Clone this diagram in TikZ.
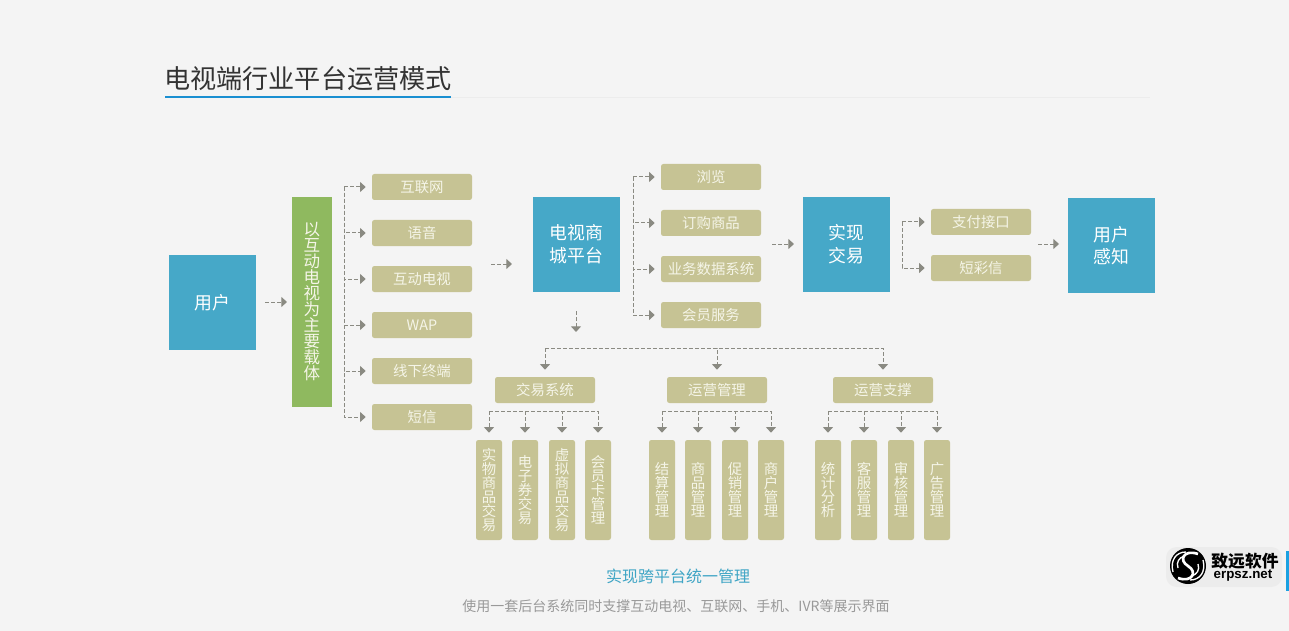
\documentclass[tikz,border=0pt]{standalone}
\usepackage{fontspec}
\setmainfont{Noto Sans CJK SC}
\newfontfamily\logolat{Liberation Sans}
\usepackage{xcolor}
\definecolor{bgc}{HTML}{F4F4F4}
\definecolor{bluec}{HTML}{46A8C8}
\definecolor{greenc}{HTML}{8FB95F}
\definecolor{khakic}{HTML}{C6C394}
\definecolor{lblc}{HTML}{F5F5E8}
\definecolor{arrc}{HTML}{8A8A82}
\definecolor{titlec}{HTML}{333333}
\definecolor{ulinec}{HTML}{1A8FD1}
\definecolor{rulec}{HTML}{ECECEC}
\definecolor{subc}{HTML}{3FA5C5}
\definecolor{notec}{HTML}{999999}
\definecolor{barc}{HTML}{1BA1E2}
\usetikzlibrary{arrows.meta,positioning,calc}
\tikzset{
  x=0.75pt,y=-0.75pt,
  >={Triangle[length=4.2pt,width=7.4pt]},
  bigbox/.style={fill=bluec,text=white,minimum width=65.25pt,minimum height=71.25pt,inner sep=0pt,align=center,font=\fontsize{13.4}{17}\selectfont},
  sidebox/.style={fill=greenc,text=lblc,minimum width=30pt,minimum height=157.5pt,inner sep=0pt,align=center,font=\fontsize{12.4}{12}\selectfont},
  item/.style={fill=khakic,text=lblc,rounded corners=1.8pt,minimum width=75pt,minimum height=19.5pt,inner sep=0pt,font=\fontsize{10.8}{12}\selectfont},
  leaf/.style={fill=khakic,text=lblc,rounded corners=1.8pt,minimum width=19.5pt,minimum height=75pt,inner sep=0pt,align=center,font=\fontsize{10.8}{10.5}\selectfont},
  dashar/.style={->,draw=arrc,line width=0.75pt,dash pattern=on 3pt off 1.5pt},
  toitem/.style={dashar,shorten >=4.5pt},
  toleaf/.style={dashar,shorten >=5.25pt},
}
\newcommand{\itemrow}[4]{\node[item] (#1) at (#2,#3) {#4};}
\newcommand{\leafbox}[3]{\node[leaf] (#1) at (#2,490) {#3};}
\begin{document}
\begin{tikzpicture}
  \fill[bgc] (0,0) rectangle (1289,631);
  \useasboundingbox (0,0) rectangle (1289,631);
  % title
  \node[font=\fontsize{19.6}{22}\selectfont,text=titlec,inner sep=0pt] (title) at (308,79) {电视端行业平台运营模式};
  \draw[rulec,line width=0.75pt] (451,98) -- (1150,98);
  \draw[ulinec,line width=1.5pt] (165,97) -- (451,97);
  % top row
  \node[bigbox] (user) at (212.5,302.5) {用户};
  \node[sidebox] (carrier) at (312,302) {以\\互\\动\\电\\视\\为\\主\\要\\载\\体};
  \node[bigbox] (mall) at (576.5,244.5) {电视商\\城平台};
  \node[bigbox] (deal) at (846.5,244.5) {实现\\交易};
  \node[bigbox] (sense) at (1111.5,245.5) {用户\\感知};
  \itemrow{net}{422}{187}{互联网}
  \itemrow{voice}{422}{233}{语音}
  \itemrow{iptv}{422}{279}{互动电视}
  \itemrow{wap}{422}{325}{WAP}
  \itemrow{shop}{422}{371}{线下终端}
  \itemrow{sms}{422}{417}{短信}
  \itemrow{browse}{711}{177}{浏览}
  \itemrow{order}{711}{223}{订购商品}
  \itemrow{data}{711}{269}{业务数据系统}
  \itemrow{member}{711}{315}{会员服务}
  \itemrow{pay}{981}{222}{支付接口}
  \itemrow{msg}{981}{268}{短彩信}
  % back office
  \itemrow{trade}{545}{390}{交易系统}
  \itemrow{oper}{717}{390}{运营管理}
  \itemrow{supp}{883}{390}{运营支撑}
  \leafbox{la}{489}{实\\物\\商\\品\\交\\易}
  \leafbox{lb}{525}{电\\子\\券\\交\\易}
  \leafbox{lc}{562}{虚\\拟\\商\\品\\交\\易}
  \leafbox{ld}{598}{会\\员\\卡\\管\\理}
  \leafbox{le}{662}{结\\算\\管\\理}
  \leafbox{lf}{698}{商\\品\\管\\理}
  \leafbox{lg}{735}{促\\销\\管\\理}
  \leafbox{lh}{771}{商\\户\\管\\理}
  \leafbox{li}{828}{统\\计\\分\\析}
  \leafbox{lj}{864}{客\\服\\管\\理}
  \leafbox{lk}{901}{审\\核\\管\\理}
  \leafbox{ll}{937}{广\\告\\管\\理}
  % free ends of the connectors
  \coordinate (s1) at (265,302);
  \coordinate (e1) at (287,302);
  \coordinate (s2) at (491,264);
  \coordinate (e2) at (512,264);
  \coordinate (s3) at (772,244);
  \coordinate (e3) at (794,244);
  \coordinate (s4) at (1038,244);
  \coordinate (e4) at (1059,244);
  \coordinate (s5) at (576,311);
  \coordinate (e5) at (576,332);
  \coordinate (t1) at (344,187);
  \coordinate (t2) at (633,177);
  \coordinate (t3) at (902,222);
  \coordinate (b0) at (545,348);
  \coordinate (b1) at (489,411);
  \coordinate (b2) at (662,411);
  \coordinate (b3) at (828,411);
  \foreach \a/\b in {s1/e1,s2/e2,s3/e3,s4/e4,s5/e5} \draw[dashar] (\a) -- (\b);
  % brackets
  \foreach \n in {net,voice,iptv,wap,shop,sms} \draw[toitem] (t1) |- (\n);
  \foreach \n in {browse,order,data,member} \draw[toitem] (t2) |- (\n);
  \foreach \n in {pay,msg} \draw[toitem] (t3) |- (\n);
  \foreach \n in {trade,oper,supp} \draw[toleaf] (b0) -| (\n);
  \foreach \n in {la,lb,lc,ld} \draw[toleaf] (b1) -| (\n);
  \foreach \n in {le,lf,lg,lh} \draw[toleaf] (b2) -| (\n);
  \foreach \n in {li,lj,lk,ll} \draw[toleaf] (b3) -| (\n);
  % bottom notes
  \node[font=\fontsize{12}{14}\selectfont,text=subc,inner sep=0pt] (sub) at (678,576) {实现跨平台统一管理};
  \node[font=\fontsize{10.5}{12}\selectfont,text=notec,inner sep=0pt] (note) at (676,606) {使用一套后台系统同时支撑互动电视、互联网、手机、IVR等展示界面};
  % logo
  \fill[gray!25,opacity=.35,rounded corners=8pt] (1166,547) rectangle (1282,587);
  \fill[black] (1188,566) circle[radius=18];
  \draw[white,line width=2pt] (1198,554) .. controls (1184,549) and (1178,560) .. (1188,566) .. controls (1198,572) and (1192,583) .. (1178,578);
  \draw[white,line width=1pt] (1173,572) .. controls (1170,560) and (1176,552) .. (1186,552);
  \draw[white,line width=1pt] (1178,568) .. controls (1176,562) and (1179,558) .. (1184,556);
  \draw[white,line width=1pt] (1203,560) .. controls (1206,572) and (1200,580) .. (1190,580);
  \draw[white,line width=1pt] (1198,564) .. controls (1200,570) and (1197,574) .. (1192,576);
  \node[font=\fontsize{12.6}{14}\selectfont\bfseries,text=black,inner sep=0pt] (logoa) at (1245,561) {致远软件};
  \node[font=\logolat\fontsize{10}{12}\selectfont\bfseries,text=black,inner sep=0pt] (logob) at (1243,576) {erpsz.net};
  \fill[barc] (1286,551) rectangle (1289,591);
\end{tikzpicture}
\end{document}
